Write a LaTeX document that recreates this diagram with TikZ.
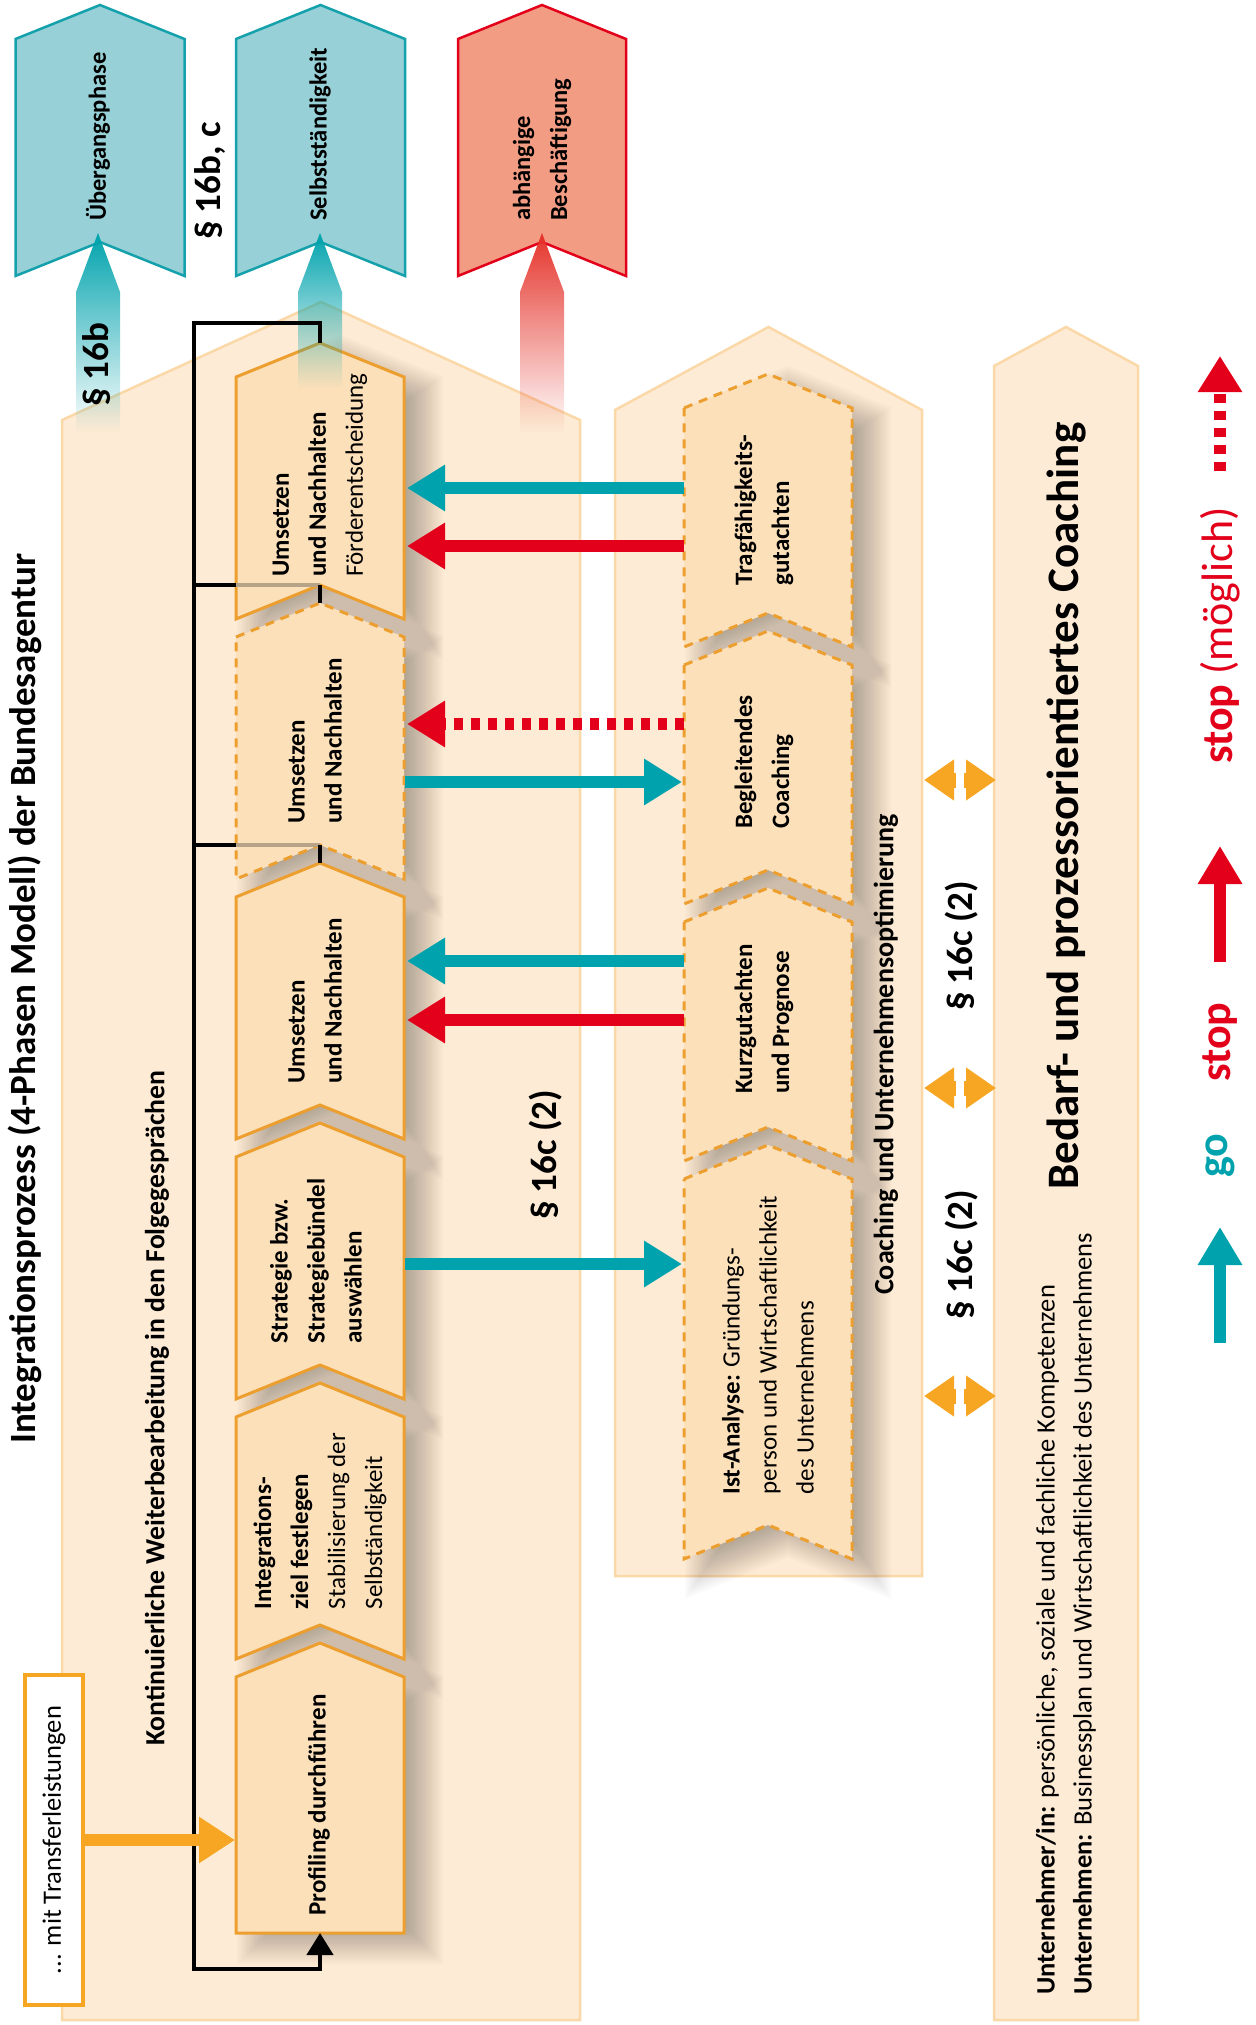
\documentclass[tikz,border=0pt]{standalone}
\usepackage{fontspec}
\setmainfont{Carlito}
\usetikzlibrary{arrows.meta,fadings}
\definecolor{peach}{HTML}{FDEBD5}
\definecolor{peachedge}{HTML}{FBD8A8}
\definecolor{boxfill}{HTML}{FCE0BA}
\definecolor{boxedge}{HTML}{EC9F2E}
\definecolor{tealc}{HTML}{00A3AD}
\definecolor{tealfill}{HTML}{97D1D7}
\definecolor{tealedge}{HTML}{14A1AB}
\definecolor{redc}{HTML}{E2001A}
\definecolor{redarrow}{HTML}{E5332A}
\definecolor{redfill}{HTML}{F29C83}
\definecolor{orangec}{HTML}{F6A623}
\definecolor{loopgrey}{HTML}{B7A488}
\tikzfading[name=arrowfade, top color=transparent!0, middle color=transparent!35, bottom color=transparent!100]
% chevron box: style, xl, xr, y apex, y notch, depth
\newcommand\chevshape[6]{%
  \path[#1] (#2,#4+#6) -- ({(#2+#3)/2},#4) -- (#3,#4+#6) -- (#3,#5+#6) -- ({(#2+#3)/2},#5) -- (#2,#5+#6) -- cycle;}
% big chevron: style, xl, xr, y apex, y shoulder, y bottom
\newcommand\bigchev[6]{%
  \path[#1] (#2,#5) -- ({(#2+#3)/2},#4) -- (#3,#5) -- (#3,#6) -- (#2,#6) -- cycle;}
% soft shadow of a notched chevron (depth 34, width 168): xl, xr, y apex, y notch
\newcommand\chevshadow[4]{%
  \begin{scope}[shift={(20,12)}]
  \foreach \k in {0,...,19}{%
    \pgfmathsetmacro\dd{-19+2*\k}%
    \fill[shadowfill] ({#1-(\dd)},{#3+34-0.674*(\dd)}) -- ({(#1+#2)/2},{#3-1.079*(\dd)})
      -- ({#2+(\dd)},{#3+34-0.674*(\dd)}) -- ({#2+(\dd)},{#4+34+1.484*(\dd)})
      -- ({(#1+#2)/2},{#4+1.079*(\dd)}) -- ({#1-(\dd)},{#4+34+1.484*(\dd)}) -- cycle;}
  \end{scope}}
% soft shadow of a flat-bottom chevron: xl, xr, y apex, y bottom
\newcommand\flatshadow[4]{%
  \begin{scope}[shift={(20,12)}]
  \foreach \k in {0,...,19}{%
    \pgfmathsetmacro\dd{-19+2*\k}%
    \fill[shadowfill] ({#1-(\dd)},{#3+34-0.674*(\dd)}) -- ({(#1+#2)/2},{#3-1.079*(\dd)})
      -- ({#2+(\dd)},{#3+34-0.674*(\dd)}) -- ({#2+(\dd)},{#4+(\dd)}) -- ({#1-(\dd)},{#4+(\dd)}) -- cycle;}
  \end{scope}}
\begin{document}
\begin{tikzpicture}[x=1pt,y=-1pt, line join=miter,
  bigchevron/.style={fill=peach, draw=peachedge, line width=2.5pt},
  topteal/.style={fill=tealfill, draw=tealedge, line width=2.5pt},
  topred/.style={fill=redfill, draw=redc, line width=2.5pt},
  shadowfill/.style={fill=black, fill opacity=0.017},
  procbox/.style={fill=boxfill, draw=boxedge, line width=3pt},
  procdash/.style={procbox, dash pattern=on 9pt off 7pt},
  fadearrow/.style={path fading=arrowfade, fit fading=true},
  loopline/.style={draw=black, line width=4.5pt},
  loopfaint/.style={draw=loopgrey, line width=4.5pt},
  harrow/.style={line width=12pt, -{Triangle[length=38pt,width=44pt]}},
  dotarrow/.style={harrow, dash pattern=on 9pt off 8pt},
  dblarrow/.style={draw=orangec, line width=15pt, -{Triangle[length=30pt,width=39pt]}},
  rtxt/.style={rotate=90, inner sep=0pt, align=left},
  t25/.style={rtxt, font=\fontsize{25}{37}\selectfont},
  b25/.style={rtxt, font=\fontsize{25}{37}\selectfont\bfseries},
  para/.style={rtxt, font=\fontsize{37}{44}\selectfont\bfseries},
]
\useasboundingbox (0,0) rectangle (1255,2025);
\fill[white] (0,0) rectangle (1255,2025);

% big background chevrons
\bigchev{bigchevron}{62}{580}{302}{420}{2020}
\bigchev{bigchevron}{615}{922}{327}{410}{1576}
\bigchev{bigchevron}{994}{1138}{327}{366}{2020}

% top target boxes
\chevshape{topteal}{15.5}{184.5}{5}{242}{34}
\chevshape{topteal}{236}{405}{5}{242}{34}
\chevshape{topred}{458}{626}{5}{242}{34}

% gradient arrows
\path[fill=tealc, fadearrow] (76,432) -- (76,292) -- (98,233) -- (120,292) -- (120,432) -- cycle;
\path[fill=redarrow, fadearrow] (520,432) -- (520,292) -- (542,233) -- (564,292) -- (564,432) -- cycle;

% transfer box
\node[rotate=90, draw=orangec, fill=white, line width=3.5pt, minimum width=330pt, minimum height=58pt,
      inner sep=0pt, font=\fontsize{26.5}{32}\selectfont] (mit) at (54,1840) {... mit Transferleistungen};

% shadows
\chevshadow{236}{404}{343}{585}
\chevshadow{236}{404}{603}{845}
\chevshadow{236}{404}{863}{1105}
\chevshadow{236}{404}{1123}{1365}
\chevshadow{236}{404}{1383}{1625}
\flatshadow{236}{404}{1643}{1933}
\chevshadow{684}{852}{374}{613}
\chevshadow{684}{852}{631}{870}
\chevshadow{684}{852}{888}{1127}
\chevshadow{684}{852}{1145}{1525}

% process boxes (left)
\chevshape{procbox}{236}{404}{343}{585}{34}
\chevshape{procdash}{236}{404}{603}{845}{34}
\chevshape{procbox}{236}{404}{863}{1105}{34}
\chevshape{procbox}{236}{404}{1123}{1365}{34}
\chevshape{procbox}{236}{404}{1383}{1625}{34}
\path[procbox] (236,1677) -- (320,1643) -- (404,1677) -- (404,1933) -- (236,1933) -- cycle;

% coaching boxes (right)
\chevshape{procdash}{684}{852}{374}{613}{34}
\chevshape{procdash}{684}{852}{631}{870}{34}
\chevshape{procdash}{684}{852}{888}{1127}{34}
\chevshape{procdash}{684}{852}{1145}{1525}{34}

% arrow into Selbststaendigkeit
\path[fill=tealc, fadearrow] (298,388) -- (298,292) -- (320,233) -- (342,292) -- (342,388) -- cycle;

% loop line
\coordinate (Atop) at (320,343);
\coordinate (loopTR) at (320,323);
\coordinate (loopTL) at (194,323);
\coordinate (loopBL) at (194,1969);
\coordinate (loopBR) at (320,1969);
\coordinate (Fbot) at (320,1933);
\draw[loopline, -{Triangle[length=22pt,width=26pt]}] (Atop) -- (loopTR) -- (loopTL) -- (loopBL) -- (loopBR) -- (Fbot);
\coordinate (br1) at (194,585); \coordinate (Aleft) at (236,585); \coordinate (Anotch) at (320,585); \coordinate (Btop) at (320,603);
\coordinate (br2) at (194,845); \coordinate (Bleft) at (236,845); \coordinate (Bnotch) at (320,845); \coordinate (Ctop) at (320,863);
\draw[loopline] (br1) -- (Aleft);
\draw[loopfaint] (Aleft) -- (Anotch);
\draw[loopline] (Anotch) -- (Btop);
\draw[loopline] (br2) -- (Bleft);
\draw[loopfaint] (Bleft) -- (Bnotch);
\draw[loopline] (Bnotch) -- (Ctop);

% transfer arrow
\coordinate (Fw) at (235,1840);
\draw[orangec, line width=12pt, -{Triangle[length=36pt,width=44pt]}] (mit.south) -- (Fw);

% horizontal arrows
\coordinate (G1) at (684,488);  \coordinate (A1) at (407,488);
\coordinate (G2) at (684,546);  \coordinate (A2) at (407,546);
\coordinate (H1) at (684,724);  \coordinate (B1) at (407,724);
\coordinate (B2) at (405,782);  \coordinate (H2) at (682,782);
\coordinate (I1) at (684,961);  \coordinate (C1) at (407,961);
\coordinate (I2) at (684,1020); \coordinate (C2) at (407,1020);
\coordinate (D1) at (405,1264); \coordinate (J1) at (682,1264);
\draw[tealc, harrow] (G1) -- (A1);
\draw[redc, harrow] (G2) -- (A2);
\draw[redc, dotarrow] (H1) -- (B1);
\draw[tealc, harrow] (B2) -- (H2);
\draw[tealc, harrow] (I1) -- (C1);
\draw[redc, harrow] (I2) -- (C2);
\draw[tealc, harrow] (D1) -- (J1);

% double arrows
\foreach \yy/\nm in {780/a,1088/b,1396/c}{
  \coordinate (dm1\nm) at (956,\yy); \coordinate (dl\nm) at (924,\yy);
  \coordinate (dm2\nm) at (964,\yy); \coordinate (dr\nm) at (996,\yy);
  \draw[dblarrow] (dm1\nm) -- (dl\nm);
  \draw[dblarrow] (dm2\nm) -- (dr\nm);
}

% legend arrows
\coordinate (lg1a) at (1220,1343); \coordinate (lg1b) at (1220,1227);
\coordinate (lg2a) at (1220,962);  \coordinate (lg2b) at (1220,846);
\coordinate (lg3a) at (1220,471);  \coordinate (lg3b) at (1220,356);
\draw[tealc, line width=12.5pt, -{Triangle[length=38pt,width=42pt]}] (lg1a) -- (lg1b);
\draw[redc, line width=12.5pt, -{Triangle[length=38pt,width=42pt]}] (lg2a) -- (lg2b);
\draw[redc, line width=12.5pt, dash pattern=on 9pt off 8pt, -{Triangle[length=36pt,width=42pt]}] (lg3a) -- (lg3b);

% texts: top boxes
\node[rtxt, anchor=west, font=\fontsize{24.5}{37}\selectfont\bfseries] (tueb) at (98,221) {Übergangsphase};
\node[rtxt, anchor=west, font=\fontsize{24.5}{37}\selectfont\bfseries] (tselb) at (320,221) {Selbstständigkeit};
\node[rtxt, anchor=west, font=\fontsize{24.5}{37}\selectfont\bfseries] (tabh) at (542,221) {abhängige\\Beschäftigung};
\node[para, anchor=west] (p16bc) at (210,240) {§ 16b, c};
\node[para, anchor=west] (p16b) at (97,407) {§ 16b};

% title
\node[para, anchor=west] (title) at (25,1444) {Integrationsprozess (4-Phasen Modell) der Bundesagentur};
\node[rtxt, anchor=west, font=\fontsize{27.7}{33}\selectfont\bfseries] (kont) at (157,1746) {Kontinuierliche Weiterbearbeitung in den Folgegesprächen};

% process box texts
\node[t25] (tA) at (320,475) {\textbf{Umsetzen}\\\textbf{und Nachhalten}\\Förderentscheidung};
\node[b25] (tB) at (315,741) {Umsetzen\\und Nachhalten};
\node[b25] (tC) at (315,1001) {Umsetzen\\und Nachhalten};
\node[b25] (tD) at (316,1261) {Strategie bzw.\\Strategiebündel\\auswählen};
\node[t25] (tE) at (320,1521) {\textbf{Integrations-}\\\textbf{ziel festlegen}\\Stabilisierung der\\Selbständigkeit};
\node[b25] (tF) at (319,1805) {Profiling durchführen};

\node[b25] (tG) at (764,510) {Tragfähigkeits-\\gutachten};
\node[b25] (tH) at (764,762) {Begleitendes\\Coaching};
\node[b25] (tI) at (764,1019) {Kurzgutachten\\und Prognose};
\node[t25] (tJ) at (768,1345) {\textbf{Ist-Analyse:} Gründungs-\\person und Wirtschaftlichkeit\\des Unternehmens};

% paragraph labels
\node[para, anchor=west] (p16c1) at (546,1220) {§ 16c (2)};
\node[para, anchor=west] (p16c2) at (962,1011) {§ 16c (2)};
\node[para, anchor=west] (p16c3) at (962,1320) {§ 16c (2)};
\node[rtxt, anchor=west, font=\fontsize{28}{33}\selectfont\bfseries] (coach) at (886,1295) {Coaching und Unternehmensoptimierung};

% right column
\node[rtxt, anchor=west, font=\fontsize{45}{54}\selectfont\bfseries] (bedarf) at (1066,1190) {Bedarf- und prozessorientiertes Coaching};
\node[rtxt, anchor=west, font=\fontsize{26.5}{37}\selectfont] (unt) at (1066,1995) {\textbf{Unternehmer/in:} persönliche, soziale und fachliche Kompetenzen\\\textbf{Unternehmen:} Businessplan und Wirtschaftlichkeit des Unternehmens};

% legend
\node[rtxt, anchor=west, font=\fontsize{44}{52}\selectfont\bfseries, text=tealc] (go) at (1220,1178) {go};
\node[rtxt, anchor=west, font=\fontsize{44}{52}\selectfont\bfseries, text=redc] (stop) at (1220,1082) {stop};
\node[rtxt, anchor=west, font=\fontsize{44}{52}\selectfont, text=redc] (stopm) at (1220,764) {\textbf{stop} (möglich)};
\end{tikzpicture}
\end{document}
